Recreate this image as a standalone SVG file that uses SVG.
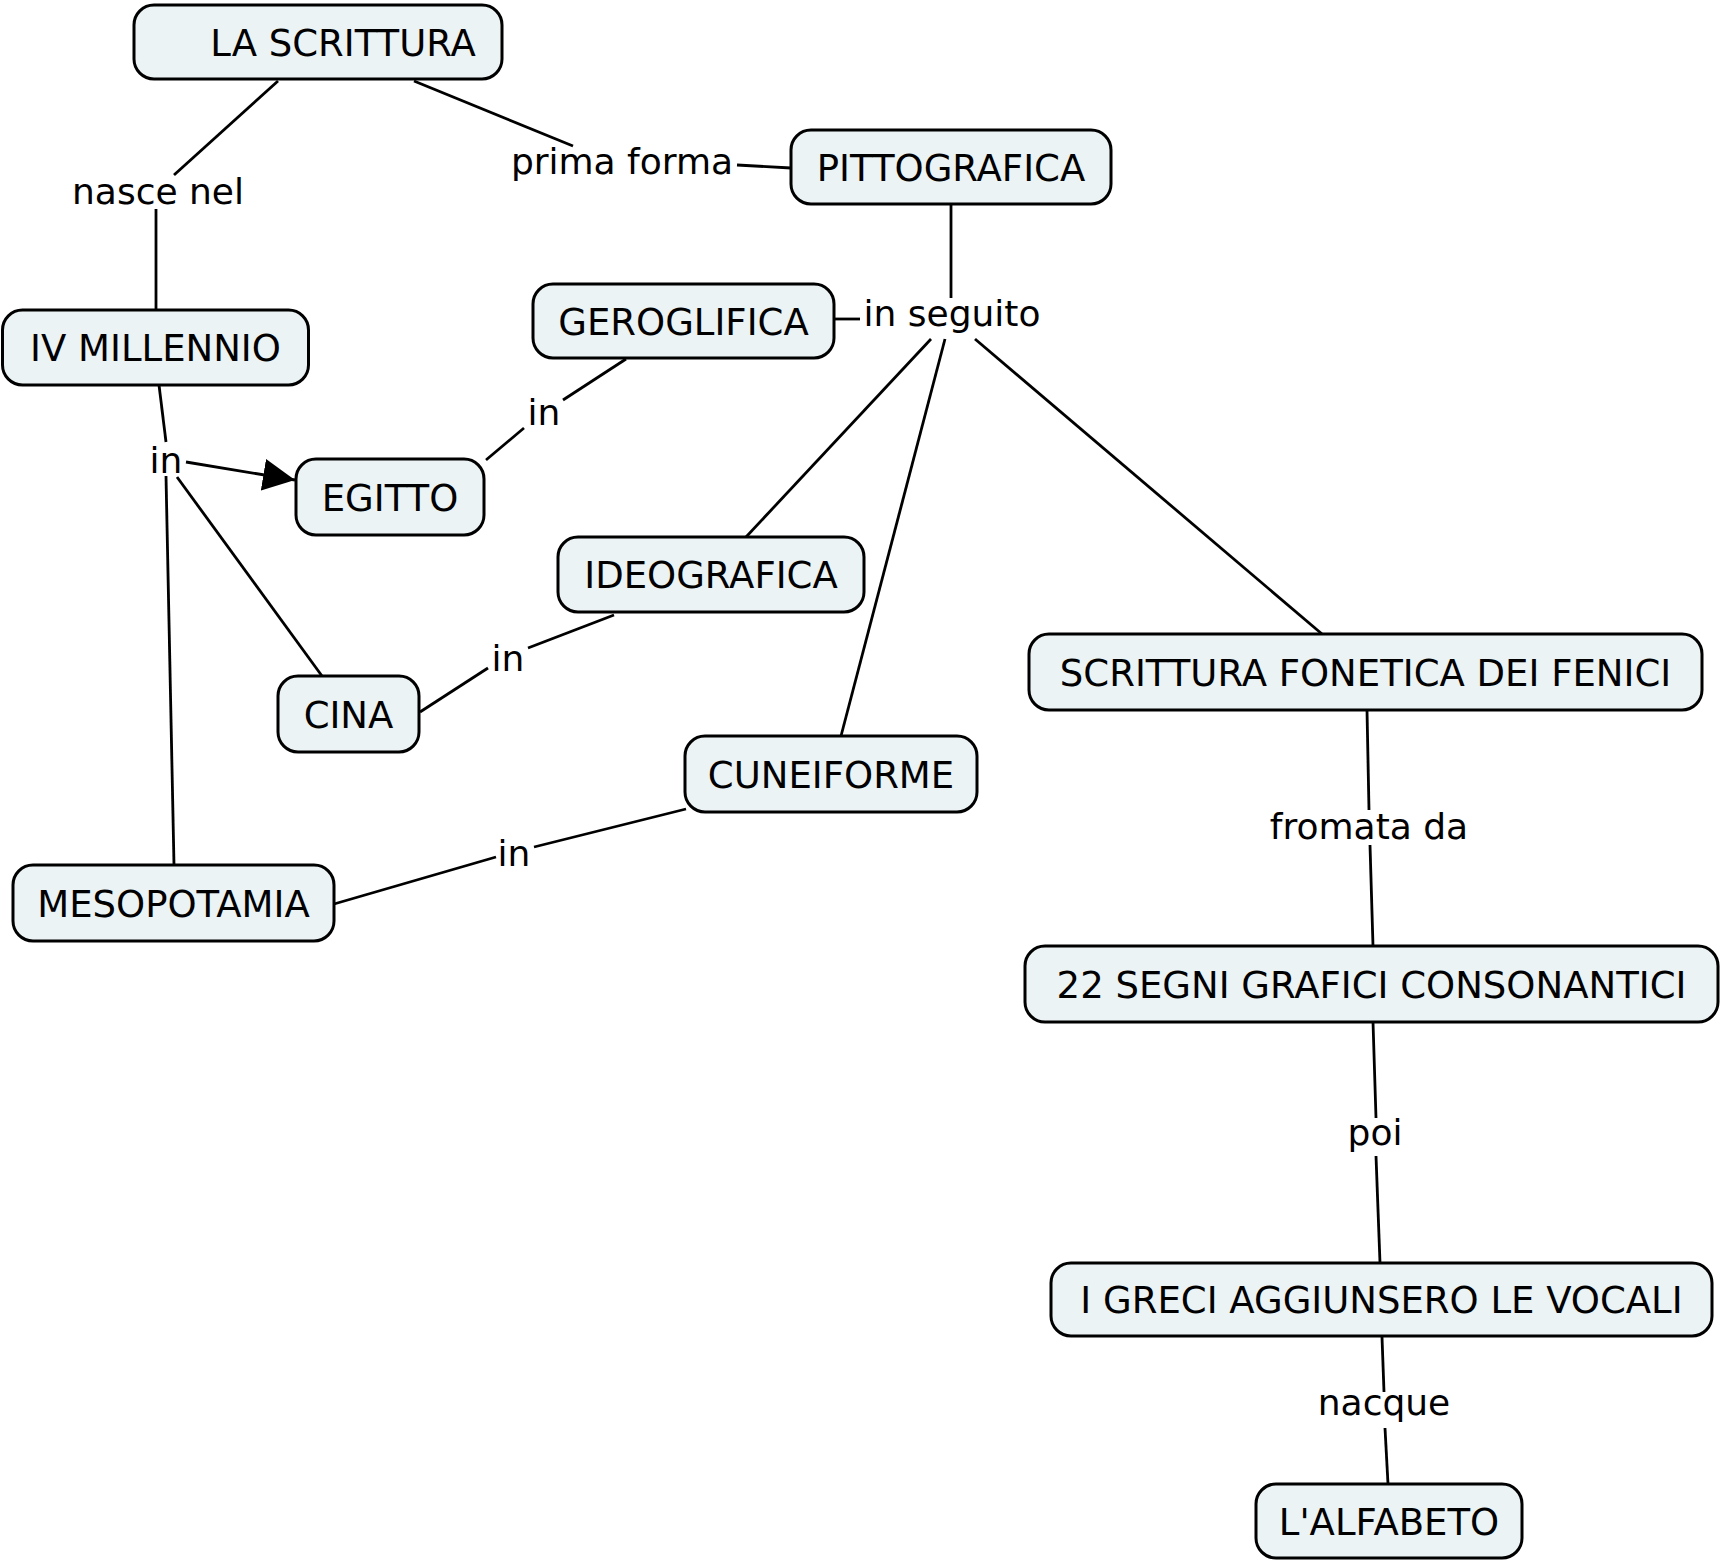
<svg xmlns="http://www.w3.org/2000/svg" width="1723" height="1564" viewBox="0 0 1723 1564">
<style>
.node rect{fill:#ebf3f5;stroke:#000;stroke-width:3}
.node text{font-family:"DejaVu Sans","Liberation Sans",sans-serif;font-size:37px;fill:#000;text-anchor:middle}
.lbl{font-family:"DejaVu Sans","Liberation Sans",sans-serif;font-size:36px;fill:#000;text-anchor:middle}
#connectors line{stroke:#000;stroke-width:2.8;fill:none}
</style>
<defs>
<marker id="arr" viewBox="0 0 32 32" refX="32" refY="16" markerWidth="32" markerHeight="32" markerUnits="userSpaceOnUse" orient="auto">
<path d="M0,0 L32,16 L0,32 Z" fill="#000"/>
</marker>
</defs>
<rect width="1723" height="1564" fill="#fff"/>
<g id="connectors">
<line x1="278" y1="81" x2="174" y2="175"/>
<line x1="156" y1="209" x2="156" y2="310"/>
<line x1="414" y1="81" x2="573" y2="146"/>
<line x1="737" y1="165" x2="791" y2="168"/>
<line x1="951" y1="204" x2="951" y2="298"/>
<line x1="834" y1="319" x2="860" y2="319"/>
<line x1="931" y1="339" x2="746" y2="537"/>
<line x1="945" y1="339" x2="841" y2="736"/>
<line x1="975" y1="339" x2="1322" y2="634"/>
<line x1="626" y1="359" x2="563" y2="400"/>
<line x1="524" y1="428" x2="486" y2="460"/>
<line x1="159" y1="385" x2="166" y2="442"/>
<line x1="186" y1="462" x2="295" y2="480" marker-end="url(#arr)"/>
<line x1="177" y1="477" x2="322" y2="676"/>
<line x1="166" y1="476" x2="174" y2="865"/>
<line x1="614" y1="615" x2="528" y2="648"/>
<line x1="488" y1="668" x2="420" y2="712"/>
<line x1="686" y1="809" x2="534" y2="847"/>
<line x1="496" y1="857" x2="334" y2="904"/>
<line x1="1367" y1="710" x2="1369" y2="810"/>
<line x1="1370" y1="845" x2="1373" y2="946"/>
<line x1="1373" y1="1022" x2="1376" y2="1118"/>
<line x1="1376" y1="1156" x2="1380" y2="1263"/>
<line x1="1382" y1="1337" x2="1384" y2="1392"/>
<line x1="1385" y1="1428" x2="1388" y2="1484"/>
</g>
<g id="labels">
<text class="lbl" x="158" y="204">nasce nel</text>
<text class="lbl" x="622" y="174">prima forma</text>
<text class="lbl" x="952" y="326">in seguito</text>
<text class="lbl" x="166" y="473">in</text>
<text class="lbl" x="544" y="425">in</text>
<text class="lbl" x="508" y="671">in</text>
<text class="lbl" x="514" y="866">in</text>
<text class="lbl" x="1369" y="839">fromata da</text>
<text class="lbl" x="1375" y="1145">poi</text>
<text class="lbl" x="1384" y="1415">nacque</text>
</g>
<g id="n1" class="node"><rect x="134" y="5" width="368" height="74" rx="20"/><text x="343" y="55.5">LA SCRITTURA</text></g>
<g id="n2" class="node"><rect x="791" y="130" width="320" height="74" rx="20"/><text x="951" y="180.5">PITTOGRAFICA</text></g>
<g id="n3" class="node"><rect x="2.5" y="310" width="306" height="75" rx="20"/><text x="155.5" y="361">IV MILLENNIO</text></g>
<g id="n4" class="node"><rect x="533" y="284" width="301" height="74" rx="20"/><text x="683.5" y="334.5">GEROGLIFICA</text></g>
<g id="n5" class="node"><rect x="296" y="459" width="188" height="76" rx="20"/><text x="390" y="510.5">EGITTO</text></g>
<g id="n6" class="node"><rect x="558" y="537" width="306" height="75" rx="20"/><text x="711" y="588">IDEOGRAFICA</text></g>
<g id="n7" class="node"><rect x="278" y="676" width="141" height="76" rx="20"/><text x="348.5" y="727.5">CINA</text></g>
<g id="n8" class="node"><rect x="685" y="736" width="292" height="76" rx="20"/><text x="831" y="787.5">CUNEIFORME</text></g>
<g id="n9" class="node"><rect x="13" y="865" width="321" height="76" rx="20"/><text x="173.5" y="916.5">MESOPOTAMIA</text></g>
<g id="n10" class="node"><rect x="1029" y="634" width="673" height="76" rx="20"/><text x="1365.5" y="685.5">SCRITTURA FONETICA DEI FENICI</text></g>
<g id="n11" class="node"><rect x="1025" y="946" width="693" height="76" rx="20"/><text x="1371.5" y="997.5">22 SEGNI GRAFICI CONSONANTICI</text></g>
<g id="n12" class="node"><rect x="1051" y="1263" width="661" height="73" rx="20"/><text x="1381.5" y="1313">I GRECI AGGIUNSERO LE VOCALI</text></g>
<g id="n13" class="node"><rect x="1256" y="1484" width="266" height="74" rx="20"/><text x="1389" y="1534.5">L'ALFABETO</text></g>
</svg>
